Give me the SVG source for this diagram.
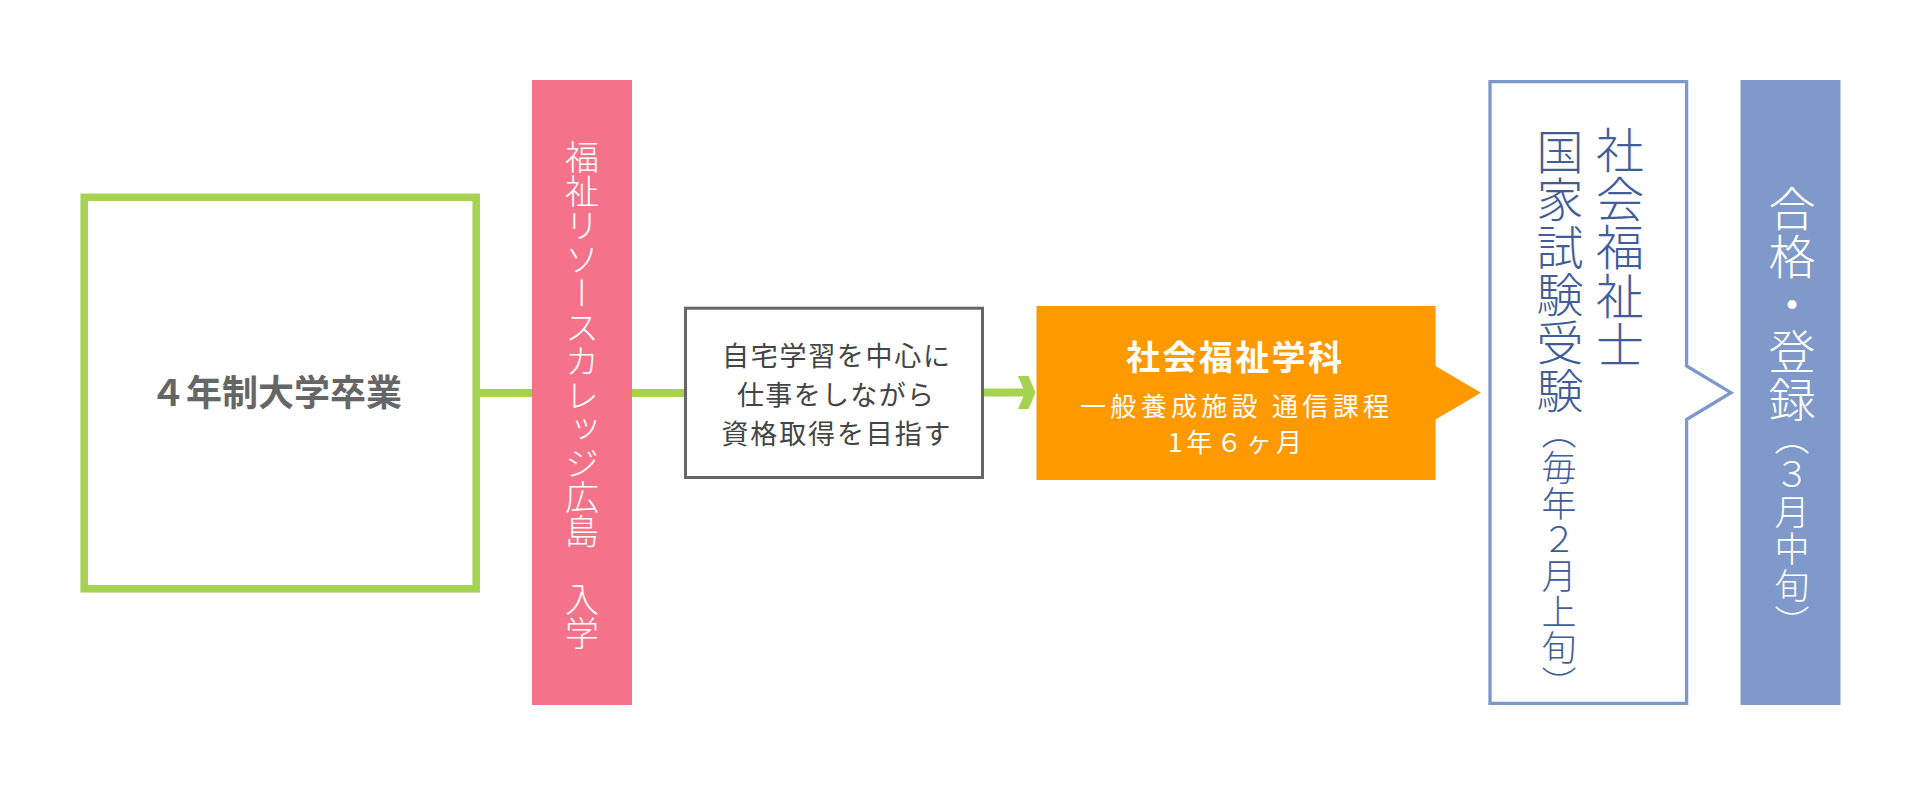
<svg xmlns="http://www.w3.org/2000/svg" width="1920" height="786" viewBox="0 0 1920 786">
<style>
.jp{font-family:"Noto Sans CJK JP","Noto Sans",sans-serif;}
.vt{writing-mode:vertical-rl;text-orientation:mixed;}
.lt{font-weight:300;}
.conn{stroke:#A5D24F;stroke-width:8;fill:none;}
</style>
<rect width="1920" height="786" fill="#FFFFFF"/>
<g id="connectors">
<line class="conn" x1="478" y1="393" x2="534" y2="393"/>
<line class="conn" x1="630" y1="393" x2="686" y2="393"/>
<line class="conn" x1="982" y1="392.5" x2="1027" y2="392.5"/>
<polygon points="1018,376 1028.5,376 1035.5,392.5 1028.5,409 1018,409 1025,392.5" fill="#A5D24F"/>
</g>
<g id="node-graduate">
<rect x="84.2" y="197.3" width="392" height="391.5" fill="#FFFFFF" stroke="#A5D24F" stroke-width="7.5"/>
<text class="jp" x="150" y="405.5" font-size="36" font-weight="700" fill="#666666" textLength="252" lengthAdjust="spacing">４年制大学卒業</text>
</g>
<g id="node-enroll">
<rect x="532" y="80" width="100" height="625" fill="#F5738A"/>
<text class="jp vt lt" x="582" y="140" font-size="34" fill="#FFFFFF">福祉リソースカレッジ広島　入学</text>
</g>
<g id="node-study">
<rect x="685.5" y="308.2" width="297" height="169.3" fill="#FFFFFF" stroke="#666666" stroke-width="3"/>
<g class="jp" font-size="27" fill="#444444">
<text x="722" y="366" textLength="228" lengthAdjust="spacing">自宅学習を中心に</text>
<text x="737" y="405" textLength="197" lengthAdjust="spacing">仕事をしながら</text>
<text x="721.5" y="444" textLength="229" lengthAdjust="spacing">資格取得を目指す</text>
</g>
</g>
<g id="node-course">
<polygon points="1036.5,306 1435.6,306 1435.6,366 1481,392.7 1435.6,419.5 1435.6,480 1036.5,480" fill="#FF9900"/>
<g class="jp" fill="#FFFFFF">
<text x="1126" y="370" font-size="34" font-weight="700" textLength="216" lengthAdjust="spacing">社会福祉学科</text>
<text x="1080" y="416" font-size="26" textLength="309" lengthAdjust="spacing">一般養成施設 通信課程</text>
<text x="1168" y="452" font-size="26" textLength="134" lengthAdjust="spacing">1年６ヶ月</text>
</g>
</g>
<g id="node-exam">
<polygon points="1490,81.6 1686.6,81.6 1686.6,366 1731,392.7 1686.6,419.5 1686.6,703.4 1490,703.4" fill="#FFFFFF" stroke="#7D98CA" stroke-width="3.3"/>
<g class="jp vt lt" fill="#415D98">
<text x="1620" y="126" font-size="48" letter-spacing="0.6">社会福祉士</text>
<text x="1560" y="128" font-size="47" letter-spacing="0.7">国家試験受験</text>
<text x="1559" y="414" font-size="35" letter-spacing="1">（毎年２月上旬）</text>
</g>
</g>
<g id="node-pass">
<rect x="1740.5" y="80" width="100" height="625" fill="#7F99CA"/>
<g class="jp vt lt" fill="#FFFFFF">
<text x="1792" y="185" font-size="47" letter-spacing="0.7">合格・登録</text>
<text x="1792" y="420" font-size="35" letter-spacing="2">（３月中旬）</text>
</g>
</g>
</svg>
